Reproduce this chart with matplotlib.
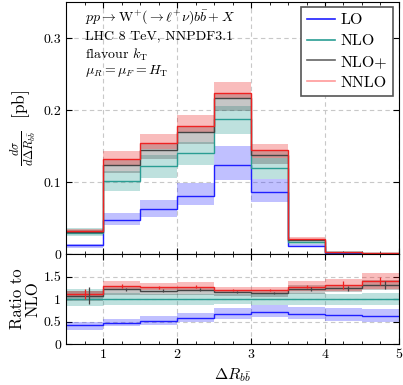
import numpy as np
import matplotlib
matplotlib.use('Agg')
import matplotlib.pyplot as plt
from matplotlib.ticker import MultipleLocator, FuncFormatter

# bin edges in Delta R_bb
edges = [0.5, 1.0, 1.5, 2.0, 2.5, 3.0, 3.5, 4.0, 4.5, 5.0]

# d sigma / d Delta R [pb], central values and scale bands
lo = [0.012, 0.047, 0.062, 0.081, 0.124, 0.086, 0.011, 0.0016, 0.00043]
lo_dn = [0.009, 0.040, 0.051, 0.068, 0.103, 0.072, 0.0093, 0.0013, 0.00035]
lo_up = [0.0145, 0.057, 0.075, 0.098, 0.150, 0.104, 0.0135, 0.0020, 0.00054]

nlo = [0.029, 0.102, 0.122, 0.140, 0.187, 0.120, 0.0165, 0.0025, 0.0007]
nlo_dn = [0.0245, 0.088, 0.106, 0.123, 0.166, 0.104, 0.0144, 0.00216, 0.0006]
nlo_up = [0.0357, 0.116, 0.137, 0.156, 0.206, 0.134, 0.0187, 0.0028, 0.00079]

nlop = [0.031, 0.124, 0.145, 0.169, 0.217, 0.137, 0.0201, 0.0031, 0.00092]
nlop_dn = [0.028, 0.112, 0.132, 0.153, 0.199, 0.125, 0.0185, 0.0029, 0.00084]
nlop_up = [0.034, 0.132, 0.153, 0.178, 0.224, 0.143, 0.0215, 0.0033, 0.00100]

nnlo = [0.032, 0.132, 0.154, 0.178, 0.224, 0.144, 0.021, 0.00328, 0.00098]
nnlo_dn = [0.030, 0.123, 0.146, 0.169, 0.215, 0.133, 0.0195, 0.00295, 0.00086]
nnlo_up = [0.0345, 0.143, 0.166, 0.193, 0.239, 0.153, 0.0232, 0.0036, 0.0011]

# MC errors shown in the ratio panel (relative to NLO)
nnlo_err = [0.11, 0.05, 0.03, 0.03, 0.02, 0.02, 0.03, 0.08, 0.08]
nlop_err = [0.19, 0.04, 0.03, 0.03, 0.02, 0.02, 0.04, 0.06, 0.08]

c_lo = '#1f1fff'
c_nlo = '#2a9d93'
c_nlop = '#444444'
c_nnlo = '#ee2222'

plt.rcParams['font.family'] = 'serif'
plt.rcParams['font.serif'] = ['cmr10']
plt.rcParams['mathtext.fontset'] = 'cm'
plt.rcParams['axes.formatter.use_mathtext'] = True
plt.rcParams['font.size'] = 10

fig = plt.figure(figsize=(4.03, 3.85), dpi=100)
ax1 = fig.add_axes([0.164, 0.340, 0.826, 0.655])
ax2 = fig.add_axes([0.164, 0.1065, 0.826, 0.2335], sharex=ax1)

edges = np.array(edges)
centers = 0.5 * (edges[:-1] + edges[1:])
series = [
    (lo, lo_dn, lo_up, c_lo, 0.28, 'LO'),
    (nlo, nlo_dn, nlo_up, c_nlo, 0.30, 'NLO'),
    (nlop, nlop_dn, nlop_up, c_nlop, 0.30, 'NLO+'),
    (nnlo, nnlo_dn, nnlo_up, c_nnlo, 0.30, 'NNLO'),
]
legend_colors = [c_lo, c_nlo, '#666666', '#ff9a9a']

ref = np.array(nlo)
for val, dn, up, col, a, lab in series:
    val, dn, up = np.array(val), np.array(dn), np.array(up)
    ax1.stairs(up, edges, baseline=dn, fill=True, color=col, alpha=a, lw=0)
    ax2.stairs(up / ref, edges, baseline=dn / ref, fill=True, color=col, alpha=a, lw=0)
for val, dn, up, col, a, lab in series:
    val = np.array(val)
    ax1.stairs(val, edges, baseline=None, color=col, lw=1.0)
    ax2.stairs(val / ref, edges, baseline=None, color=col, lw=1.0)

ax2.errorbar(centers, np.array(nnlo) / ref, yerr=nnlo_err, fmt='none',
             ecolor=c_nnlo, elinewidth=0.9, capsize=0)
ax2.errorbar(centers + 0.06, np.array(nlop) / ref, yerr=nlop_err, fmt='none',
             ecolor=c_nlop, elinewidth=0.9, capsize=0)

handles = [plt.Line2D([], [], color=c, lw=1.2) for c in legend_colors]
leg = ax1.legend(handles, [s[5] for s in series], loc='upper right',
                 bbox_to_anchor=(0.982, 0.980), borderaxespad=0, fontsize=11.5,
                 fancybox=False, framealpha=1, edgecolor='#555555',
                 handlelength=1.75, handletextpad=0.35, labelspacing=0.42,
                 borderpad=0.38)
leg.get_frame().set_linewidth(1.2)

txt = [r'$pp \to \mathrm{W}^{+}(\to \ell^{+}\nu)b\bar{b} + X$',
       'LHC 8 TeV, NNPDF3.1',
       r'flavour $k_{\mathrm{T}}$',
       r'$\mu_R = \mu_F = H_{\mathrm{T}}$']
for s, yy in zip(txt, [0.926, 0.853, 0.774, 0.714]):
    ax1.text(0.057, yy, s, transform=ax1.transAxes, va='baseline', ha='left', fontsize=10)

fmt = FuncFormatter(lambda v, p: '%g' % v)
for ax in (ax1, ax2):
    ax.set_xlim(0.5, 5)
    ax.xaxis.set_major_locator(MultipleLocator(1))
    ax.xaxis.set_minor_locator(MultipleLocator(0.25))
    ax.yaxis.set_major_formatter(fmt)
    ax.xaxis.set_major_formatter(fmt)
    ax.tick_params(which='both', direction='in', top=True, right=True, labelsize=10)
    ax.tick_params(which='major', length=4)
    ax.tick_params(which='minor', length=2)
    ax.grid(True, which='major', color='#c8c8c8', ls=(0, (4, 3)), lw=0.8)
    ax.set_axisbelow(True)

ax1.set_ylim(0, 0.35)
ax1.yaxis.set_major_locator(MultipleLocator(0.1))
ax1.tick_params(labelbottom=False)
ax1.set_ylabel(r'$\frac{d\sigma}{d\Delta R_{b\bar{b}}}$  [pb]', fontsize=12.5)
ax1.yaxis.set_label_coords(-0.085, 0.5)

ax2.set_ylim(0, 2)
ax2.set_yticks([0, 0.5, 1, 1.5])
ax2.set_ylabel('Ratio to\nNLO', fontsize=12, linespacing=0.95)
ax2.yaxis.set_label_coords(-0.078, 0.5)
ax2.set_xlabel(r'$\Delta R_{b\bar{b}}$', fontsize=11.5, labelpad=4)

fig.savefig('out.png', dpi=100)
